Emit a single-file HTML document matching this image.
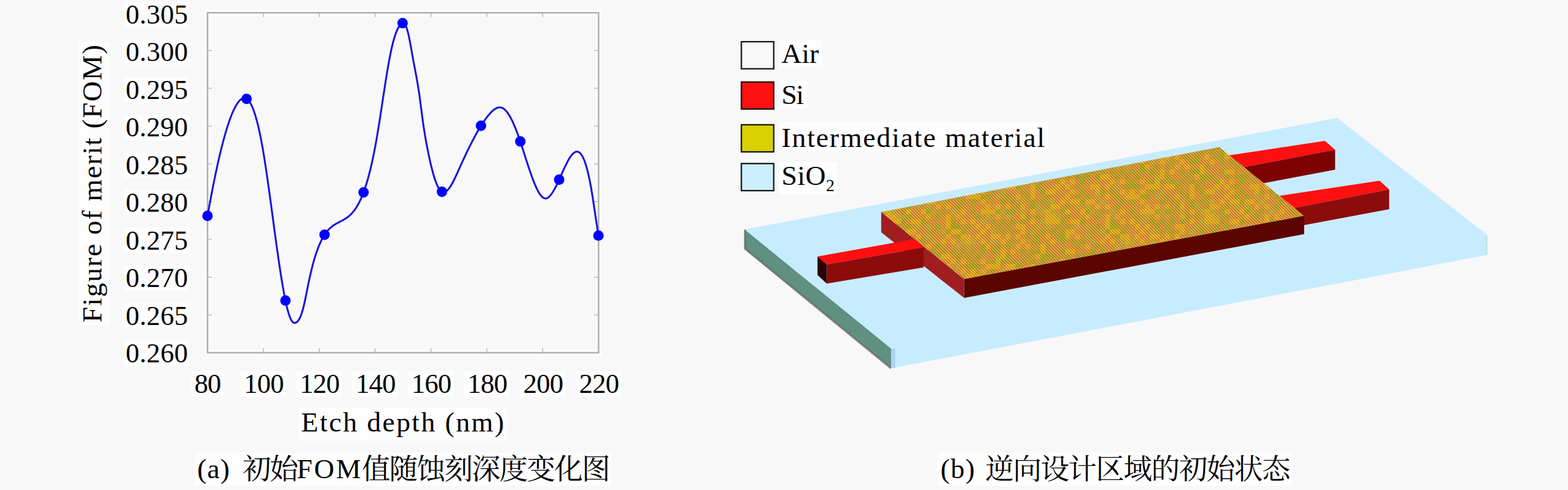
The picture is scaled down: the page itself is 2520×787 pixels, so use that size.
<!DOCTYPE html>
<html lang="zh">
<head>
<meta charset="utf-8">
<title>Figure: initial FOM vs etch depth and initial state of the inverse-design region</title>
<style>
html,body{margin:0;padding:0;}
body{width:2520px;height:787px;overflow:hidden;background:#f8f8f8;font-family:"Liberation Serif",serif;}
svg{position:absolute;left:0;top:0;display:block;}
text{font-family:"Liberation Serif",serif;fill:#000;}
.n{font-size:44px;}
.l{font-size:45px;}
.c{font-family:"Liberation Serif","Noto Serif CJK SC",serif;font-size:46px;fill:#000;}
</style>
</head>
<body>
<svg width="2520" height="787" viewBox="0 0 2520 787">
<defs><pattern id="tex" x="0" y="0" width="256" height="128" patternUnits="userSpaceOnUse"><rect width="256" height="128" fill="#dc9232"/><rect x="8" y="0" width="8" height="8" fill="#bcae2e"/><rect x="16" y="0" width="8" height="8" fill="#e8ae16"/><rect x="24" y="0" width="8" height="8" fill="#bcae2e"/><rect x="40" y="0" width="8" height="8" fill="#e8ae16"/><rect x="56" y="0" width="8" height="8" fill="#bcae2e"/><rect x="72" y="0" width="8" height="8" fill="#e8ae16"/><rect x="88" y="0" width="8" height="8" fill="#aaa61a"/><rect x="104" y="0" width="8" height="8" fill="#e8ae16"/><rect x="120" y="0" width="8" height="8" fill="#aaa61a"/><rect x="128" y="0" width="8" height="8" fill="#aaa61a"/><rect x="152" y="0" width="8" height="8" fill="#e8ae16"/><rect x="168" y="0" width="8" height="8" fill="#aaa61a"/><rect x="184" y="0" width="8" height="8" fill="#aaa61a"/><rect x="200" y="0" width="8" height="8" fill="#aaa61a"/><rect x="216" y="0" width="8" height="8" fill="#bcae2e"/><rect x="232" y="0" width="8" height="8" fill="#e8ae16"/><rect x="248" y="0" width="8" height="8" fill="#e8ae16"/><rect x="0" y="8" width="8" height="8" fill="#bcae2e"/><rect x="16" y="8" width="8" height="8" fill="#bcae2e"/><rect x="40" y="8" width="8" height="8" fill="#aaa61a"/><rect x="48" y="8" width="8" height="8" fill="#e8ae16"/><rect x="64" y="8" width="8" height="8" fill="#aaa61a"/><rect x="80" y="8" width="8" height="8" fill="#aaa61a"/><rect x="96" y="8" width="8" height="8" fill="#e8ae16"/><rect x="112" y="8" width="8" height="8" fill="#e8ae16"/><rect x="136" y="8" width="8" height="8" fill="#e8ae16"/><rect x="144" y="8" width="8" height="8" fill="#aaa61a"/><rect x="192" y="8" width="8" height="8" fill="#aaa61a"/><rect x="208" y="8" width="8" height="8" fill="#e8ae16"/><rect x="224" y="8" width="8" height="8" fill="#aaa61a"/><rect x="8" y="16" width="8" height="8" fill="#aaa61a"/><rect x="24" y="16" width="8" height="8" fill="#aaa61a"/><rect x="40" y="16" width="8" height="8" fill="#aaa61a"/><rect x="56" y="16" width="8" height="8" fill="#aaa61a"/><rect x="72" y="16" width="8" height="8" fill="#e8ae16"/><rect x="88" y="16" width="8" height="8" fill="#e8ae16"/><rect x="104" y="16" width="8" height="8" fill="#aaa61a"/><rect x="120" y="16" width="8" height="8" fill="#aaa61a"/><rect x="128" y="16" width="8" height="8" fill="#aaa61a"/><rect x="136" y="16" width="8" height="8" fill="#e8ae16"/><rect x="168" y="16" width="8" height="8" fill="#aaa61a"/><rect x="176" y="16" width="8" height="8" fill="#e8ae16"/><rect x="184" y="16" width="8" height="8" fill="#e8ae16"/><rect x="216" y="16" width="8" height="8" fill="#aaa61a"/><rect x="232" y="16" width="8" height="8" fill="#aaa61a"/><rect x="248" y="16" width="8" height="8" fill="#aaa61a"/><rect x="0" y="24" width="8" height="8" fill="#aaa61a"/><rect x="16" y="24" width="8" height="8" fill="#aaa61a"/><rect x="32" y="24" width="8" height="8" fill="#aaa61a"/><rect x="64" y="24" width="8" height="8" fill="#bcae2e"/><rect x="72" y="24" width="8" height="8" fill="#e8ae16"/><rect x="80" y="24" width="8" height="8" fill="#aaa61a"/><rect x="112" y="24" width="8" height="8" fill="#aaa61a"/><rect x="128" y="24" width="8" height="8" fill="#e8ae16"/><rect x="136" y="24" width="8" height="8" fill="#aaa61a"/><rect x="144" y="24" width="8" height="8" fill="#aaa61a"/><rect x="152" y="24" width="8" height="8" fill="#aaa61a"/><rect x="176" y="24" width="8" height="8" fill="#aaa61a"/><rect x="192" y="24" width="8" height="8" fill="#aaa61a"/><rect x="200" y="24" width="8" height="8" fill="#aaa61a"/><rect x="208" y="24" width="8" height="8" fill="#aaa61a"/><rect x="224" y="24" width="8" height="8" fill="#aaa61a"/><rect x="232" y="24" width="8" height="8" fill="#e8ae16"/><rect x="240" y="24" width="8" height="8" fill="#e8ae16"/><rect x="8" y="32" width="8" height="8" fill="#e8ae16"/><rect x="24" y="32" width="8" height="8" fill="#aaa61a"/><rect x="40" y="32" width="8" height="8" fill="#e8ae16"/><rect x="56" y="32" width="8" height="8" fill="#aaa61a"/><rect x="64" y="32" width="8" height="8" fill="#e8ae16"/><rect x="72" y="32" width="8" height="8" fill="#aaa61a"/><rect x="88" y="32" width="8" height="8" fill="#aaa61a"/><rect x="104" y="32" width="8" height="8" fill="#aaa61a"/><rect x="120" y="32" width="8" height="8" fill="#aaa61a"/><rect x="136" y="32" width="8" height="8" fill="#aaa61a"/><rect x="160" y="32" width="8" height="8" fill="#aaa61a"/><rect x="168" y="32" width="8" height="8" fill="#e8ae16"/><rect x="184" y="32" width="8" height="8" fill="#e8ae16"/><rect x="200" y="32" width="8" height="8" fill="#aaa61a"/><rect x="248" y="32" width="8" height="8" fill="#e8ae16"/><rect x="0" y="40" width="8" height="8" fill="#bcae2e"/><rect x="16" y="40" width="8" height="8" fill="#aaa61a"/><rect x="24" y="40" width="8" height="8" fill="#aaa61a"/><rect x="32" y="40" width="8" height="8" fill="#aaa61a"/><rect x="48" y="40" width="8" height="8" fill="#e8ae16"/><rect x="56" y="40" width="8" height="8" fill="#e8ae16"/><rect x="64" y="40" width="8" height="8" fill="#e8ae16"/><rect x="80" y="40" width="8" height="8" fill="#e8ae16"/><rect x="88" y="40" width="8" height="8" fill="#e8ae16"/><rect x="96" y="40" width="8" height="8" fill="#aaa61a"/><rect x="120" y="40" width="8" height="8" fill="#e8ae16"/><rect x="128" y="40" width="8" height="8" fill="#aaa61a"/><rect x="160" y="40" width="8" height="8" fill="#e8ae16"/><rect x="176" y="40" width="8" height="8" fill="#e8ae16"/><rect x="192" y="40" width="8" height="8" fill="#aaa61a"/><rect x="216" y="40" width="8" height="8" fill="#e8ae16"/><rect x="224" y="40" width="8" height="8" fill="#e8ae16"/><rect x="240" y="40" width="8" height="8" fill="#e8ae16"/><rect x="8" y="48" width="8" height="8" fill="#e8ae16"/><rect x="24" y="48" width="8" height="8" fill="#e8ae16"/><rect x="40" y="48" width="8" height="8" fill="#e8ae16"/><rect x="56" y="48" width="8" height="8" fill="#aaa61a"/><rect x="72" y="48" width="8" height="8" fill="#bcae2e"/><rect x="104" y="48" width="8" height="8" fill="#aaa61a"/><rect x="120" y="48" width="8" height="8" fill="#e8ae16"/><rect x="136" y="48" width="8" height="8" fill="#aaa61a"/><rect x="144" y="48" width="8" height="8" fill="#e8ae16"/><rect x="152" y="48" width="8" height="8" fill="#e8ae16"/><rect x="184" y="48" width="8" height="8" fill="#e8ae16"/><rect x="200" y="48" width="8" height="8" fill="#aaa61a"/><rect x="224" y="48" width="8" height="8" fill="#e8ae16"/><rect x="232" y="48" width="8" height="8" fill="#aaa61a"/><rect x="248" y="48" width="8" height="8" fill="#aaa61a"/><rect x="0" y="56" width="8" height="8" fill="#aaa61a"/><rect x="16" y="56" width="8" height="8" fill="#e8ae16"/><rect x="24" y="56" width="8" height="8" fill="#e8ae16"/><rect x="32" y="56" width="8" height="8" fill="#e8ae16"/><rect x="40" y="56" width="8" height="8" fill="#aaa61a"/><rect x="48" y="56" width="8" height="8" fill="#aaa61a"/><rect x="64" y="56" width="8" height="8" fill="#bcae2e"/><rect x="80" y="56" width="8" height="8" fill="#aaa61a"/><rect x="96" y="56" width="8" height="8" fill="#e8ae16"/><rect x="112" y="56" width="8" height="8" fill="#aaa61a"/><rect x="120" y="56" width="8" height="8" fill="#e8ae16"/><rect x="144" y="56" width="8" height="8" fill="#aaa61a"/><rect x="176" y="56" width="8" height="8" fill="#e8ae16"/><rect x="192" y="56" width="8" height="8" fill="#aaa61a"/><rect x="208" y="56" width="8" height="8" fill="#aaa61a"/><rect x="224" y="56" width="8" height="8" fill="#bcae2e"/><rect x="240" y="56" width="8" height="8" fill="#e8ae16"/><rect x="8" y="64" width="8" height="8" fill="#aaa61a"/><rect x="24" y="64" width="8" height="8" fill="#aaa61a"/><rect x="40" y="64" width="8" height="8" fill="#e8ae16"/><rect x="72" y="64" width="8" height="8" fill="#aaa61a"/><rect x="88" y="64" width="8" height="8" fill="#aaa61a"/><rect x="104" y="64" width="8" height="8" fill="#bcae2e"/><rect x="120" y="64" width="8" height="8" fill="#aaa61a"/><rect x="136" y="64" width="8" height="8" fill="#aaa61a"/><rect x="152" y="64" width="8" height="8" fill="#bcae2e"/><rect x="168" y="64" width="8" height="8" fill="#e8ae16"/><rect x="184" y="64" width="8" height="8" fill="#e8ae16"/><rect x="192" y="64" width="8" height="8" fill="#e8ae16"/><rect x="200" y="64" width="8" height="8" fill="#aaa61a"/><rect x="208" y="64" width="8" height="8" fill="#e8ae16"/><rect x="216" y="64" width="8" height="8" fill="#e8ae16"/><rect x="232" y="64" width="8" height="8" fill="#bcae2e"/><rect x="0" y="72" width="8" height="8" fill="#aaa61a"/><rect x="48" y="72" width="8" height="8" fill="#e8ae16"/><rect x="64" y="72" width="8" height="8" fill="#e8ae16"/><rect x="80" y="72" width="8" height="8" fill="#e8ae16"/><rect x="96" y="72" width="8" height="8" fill="#aaa61a"/><rect x="104" y="72" width="8" height="8" fill="#e8ae16"/><rect x="120" y="72" width="8" height="8" fill="#aaa61a"/><rect x="128" y="72" width="8" height="8" fill="#bcae2e"/><rect x="144" y="72" width="8" height="8" fill="#aaa61a"/><rect x="152" y="72" width="8" height="8" fill="#e8ae16"/><rect x="160" y="72" width="8" height="8" fill="#e8ae16"/><rect x="176" y="72" width="8" height="8" fill="#aaa61a"/><rect x="192" y="72" width="8" height="8" fill="#bcae2e"/><rect x="208" y="72" width="8" height="8" fill="#bcae2e"/><rect x="224" y="72" width="8" height="8" fill="#e8ae16"/><rect x="240" y="72" width="8" height="8" fill="#e8ae16"/><rect x="8" y="80" width="8" height="8" fill="#e8ae16"/><rect x="24" y="80" width="8" height="8" fill="#aaa61a"/><rect x="40" y="80" width="8" height="8" fill="#e8ae16"/><rect x="48" y="80" width="8" height="8" fill="#e8ae16"/><rect x="56" y="80" width="8" height="8" fill="#e8ae16"/><rect x="64" y="80" width="8" height="8" fill="#aaa61a"/><rect x="72" y="80" width="8" height="8" fill="#bcae2e"/><rect x="80" y="80" width="8" height="8" fill="#aaa61a"/><rect x="88" y="80" width="8" height="8" fill="#aaa61a"/><rect x="104" y="80" width="8" height="8" fill="#bcae2e"/><rect x="120" y="80" width="8" height="8" fill="#e8ae16"/><rect x="136" y="80" width="8" height="8" fill="#bcae2e"/><rect x="144" y="80" width="8" height="8" fill="#e8ae16"/><rect x="152" y="80" width="8" height="8" fill="#bcae2e"/><rect x="168" y="80" width="8" height="8" fill="#aaa61a"/><rect x="176" y="80" width="8" height="8" fill="#e8ae16"/><rect x="200" y="80" width="8" height="8" fill="#e8ae16"/><rect x="208" y="80" width="8" height="8" fill="#aaa61a"/><rect x="216" y="80" width="8" height="8" fill="#bcae2e"/><rect x="232" y="80" width="8" height="8" fill="#aaa61a"/><rect x="248" y="80" width="8" height="8" fill="#bcae2e"/><rect x="0" y="88" width="8" height="8" fill="#e8ae16"/><rect x="32" y="88" width="8" height="8" fill="#aaa61a"/><rect x="48" y="88" width="8" height="8" fill="#bcae2e"/><rect x="64" y="88" width="8" height="8" fill="#e8ae16"/><rect x="80" y="88" width="8" height="8" fill="#bcae2e"/><rect x="104" y="88" width="8" height="8" fill="#e8ae16"/><rect x="112" y="88" width="8" height="8" fill="#aaa61a"/><rect x="128" y="88" width="8" height="8" fill="#aaa61a"/><rect x="144" y="88" width="8" height="8" fill="#e8ae16"/><rect x="152" y="88" width="8" height="8" fill="#e8ae16"/><rect x="160" y="88" width="8" height="8" fill="#bcae2e"/><rect x="176" y="88" width="8" height="8" fill="#aaa61a"/><rect x="208" y="88" width="8" height="8" fill="#e8ae16"/><rect x="224" y="88" width="8" height="8" fill="#aaa61a"/><rect x="240" y="88" width="8" height="8" fill="#e8ae16"/><rect x="8" y="96" width="8" height="8" fill="#e8ae16"/><rect x="24" y="96" width="8" height="8" fill="#e8ae16"/><rect x="40" y="96" width="8" height="8" fill="#bcae2e"/><rect x="56" y="96" width="8" height="8" fill="#aaa61a"/><rect x="72" y="96" width="8" height="8" fill="#aaa61a"/><rect x="88" y="96" width="8" height="8" fill="#aaa61a"/><rect x="104" y="96" width="8" height="8" fill="#aaa61a"/><rect x="120" y="96" width="8" height="8" fill="#e8ae16"/><rect x="136" y="96" width="8" height="8" fill="#bcae2e"/><rect x="144" y="96" width="8" height="8" fill="#e8ae16"/><rect x="152" y="96" width="8" height="8" fill="#e8ae16"/><rect x="160" y="96" width="8" height="8" fill="#e8ae16"/><rect x="168" y="96" width="8" height="8" fill="#aaa61a"/><rect x="184" y="96" width="8" height="8" fill="#e8ae16"/><rect x="192" y="96" width="8" height="8" fill="#e8ae16"/><rect x="200" y="96" width="8" height="8" fill="#aaa61a"/><rect x="240" y="96" width="8" height="8" fill="#e8ae16"/><rect x="248" y="96" width="8" height="8" fill="#aaa61a"/><rect x="0" y="104" width="8" height="8" fill="#aaa61a"/><rect x="16" y="104" width="8" height="8" fill="#aaa61a"/><rect x="32" y="104" width="8" height="8" fill="#e8ae16"/><rect x="48" y="104" width="8" height="8" fill="#e8ae16"/><rect x="64" y="104" width="8" height="8" fill="#aaa61a"/><rect x="80" y="104" width="8" height="8" fill="#aaa61a"/><rect x="96" y="104" width="8" height="8" fill="#e8ae16"/><rect x="104" y="104" width="8" height="8" fill="#e8ae16"/><rect x="128" y="104" width="8" height="8" fill="#bcae2e"/><rect x="144" y="104" width="8" height="8" fill="#bcae2e"/><rect x="160" y="104" width="8" height="8" fill="#aaa61a"/><rect x="176" y="104" width="8" height="8" fill="#aaa61a"/><rect x="192" y="104" width="8" height="8" fill="#bcae2e"/><rect x="208" y="104" width="8" height="8" fill="#bcae2e"/><rect x="224" y="104" width="8" height="8" fill="#aaa61a"/><rect x="240" y="104" width="8" height="8" fill="#e8ae16"/><rect x="248" y="104" width="8" height="8" fill="#aaa61a"/><rect x="0" y="112" width="8" height="8" fill="#e8ae16"/><rect x="8" y="112" width="8" height="8" fill="#aaa61a"/><rect x="40" y="112" width="8" height="8" fill="#e8ae16"/><rect x="56" y="112" width="8" height="8" fill="#bcae2e"/><rect x="72" y="112" width="8" height="8" fill="#aaa61a"/><rect x="88" y="112" width="8" height="8" fill="#aaa61a"/><rect x="104" y="112" width="8" height="8" fill="#e8ae16"/><rect x="120" y="112" width="8" height="8" fill="#bcae2e"/><rect x="136" y="112" width="8" height="8" fill="#aaa61a"/><rect x="152" y="112" width="8" height="8" fill="#aaa61a"/><rect x="168" y="112" width="8" height="8" fill="#aaa61a"/><rect x="176" y="112" width="8" height="8" fill="#e8ae16"/><rect x="184" y="112" width="8" height="8" fill="#e8ae16"/><rect x="216" y="112" width="8" height="8" fill="#aaa61a"/><rect x="232" y="112" width="8" height="8" fill="#bcae2e"/><rect x="240" y="112" width="8" height="8" fill="#aaa61a"/><rect x="248" y="112" width="8" height="8" fill="#e8ae16"/><rect x="0" y="120" width="8" height="8" fill="#aaa61a"/><rect x="8" y="120" width="8" height="8" fill="#e8ae16"/><rect x="16" y="120" width="8" height="8" fill="#e8ae16"/><rect x="32" y="120" width="8" height="8" fill="#e8ae16"/><rect x="56" y="120" width="8" height="8" fill="#e8ae16"/><rect x="64" y="120" width="8" height="8" fill="#e8ae16"/><rect x="80" y="120" width="8" height="8" fill="#e8ae16"/><rect x="96" y="120" width="8" height="8" fill="#e8ae16"/><rect x="112" y="120" width="8" height="8" fill="#aaa61a"/><rect x="128" y="120" width="8" height="8" fill="#aaa61a"/><rect x="144" y="120" width="8" height="8" fill="#e8ae16"/><rect x="160" y="120" width="8" height="8" fill="#aaa61a"/><rect x="168" y="120" width="8" height="8" fill="#aaa61a"/><rect x="176" y="120" width="8" height="8" fill="#e8ae16"/><rect x="192" y="120" width="8" height="8" fill="#e8ae16"/><rect x="208" y="120" width="8" height="8" fill="#bcae2e"/><rect x="240" y="120" width="8" height="8" fill="#e8ae16"/></pattern><pattern id="hatch" x="0" y="0" width="5" height="5" patternUnits="userSpaceOnUse"><g transform="translate(5,0) scale(-1,1)"><path d="M-1 1 L1 -1 M0 5 L5 0 M4 6 L6 4" stroke="#ffe6a0" stroke-opacity="0.30" stroke-width="1.3"/><path d="M-1 3.5 L3.5 -1 M1.5 6 L6 1.5" stroke="#7a3c00" stroke-opacity="0.34" stroke-width="1.3"/></g></pattern></defs>
<g id="graphics">
<rect x="333.5" y="20.5" width="628.5" height="546.0" fill="none" stroke="#ffffff" stroke-width="9"/>
<rect x="333.5" y="20.5" width="628.5" height="546.0" fill="none" stroke="#b3b3b3" stroke-width="2.7"/>
<path d="M423.3 566.5 v-7 M423.3 20.5 v7 M513.1 566.5 v-7 M513.1 20.5 v7 M602.9 566.5 v-7 M602.9 20.5 v7 M692.6 566.5 v-7 M692.6 20.5 v7 M782.4 566.5 v-7 M782.4 20.5 v7 M872.2 566.5 v-7 M872.2 20.5 v7 M333.5 81.2 h7 M962.0 81.2 h-7 M333.5 141.8 h7 M962.0 141.8 h-7 M333.5 202.5 h7 M962.0 202.5 h-7 M333.5 263.2 h7 M962.0 263.2 h-7 M333.5 323.8 h7 M962.0 323.8 h-7 M333.5 384.5 h7 M962.0 384.5 h-7 M333.5 445.2 h7 M962.0 445.2 h-7 M333.5 505.8 h7 M962.0 505.8 h-7" stroke="#bcbcbc" stroke-width="1.6" fill="none"/>
<path d="M333.5 346.7 L334.5 341.1 L335.5 335.6 L336.5 330.1 L337.5 324.7 L338.5 319.4 L339.5 314.1 L340.5 308.9 L341.5 303.8 L342.5 298.7 L343.5 293.7 L344.5 288.8 L345.5 283.9 L346.5 279.1 L347.5 274.4 L348.5 269.8 L349.5 265.2 L350.5 260.7 L351.5 256.3 L352.5 252.0 L353.5 247.7 L354.5 243.6 L355.5 239.5 L356.5 235.5 L357.5 231.6 L358.5 227.7 L359.5 224.0 L360.5 220.3 L361.5 216.8 L362.5 213.3 L363.5 209.9 L364.5 206.6 L365.5 203.4 L366.5 200.3 L367.5 197.3 L368.5 194.4 L369.5 191.6 L370.5 188.9 L371.5 186.3 L372.5 183.8 L373.5 181.4 L374.5 179.1 L375.5 176.9 L376.5 174.8 L377.5 172.8 L378.5 171.0 L379.5 169.2 L380.5 167.6 L381.5 166.0 L382.5 164.6 L383.5 163.3 L384.5 162.1 L385.5 161.1 L386.5 160.2 L387.5 159.4 L388.5 158.8 L389.5 158.3 L390.5 157.9 L391.5 157.7 L392.5 157.6 L393.5 157.7 L394.5 158.0 L395.5 158.4 L396.5 158.9 L397.5 159.7 L398.5 160.6 L399.5 161.7 L400.5 162.9 L401.5 164.4 L402.5 166.0 L403.5 167.8 L404.5 169.8 L405.5 172.0 L406.5 174.3 L407.5 176.9 L408.5 179.7 L409.5 182.7 L410.5 185.9 L411.5 189.3 L412.5 192.9 L413.5 196.7 L414.5 200.7 L415.5 204.9 L416.5 209.3 L417.5 214.0 L418.5 218.8 L419.5 223.8 L420.5 229.1 L421.5 234.6 L422.5 240.2 L423.5 246.1 L424.5 252.2 L425.5 258.4 L426.5 264.8 L427.5 271.4 L428.5 278.1 L429.5 285.0 L430.5 292.0 L431.5 299.0 L432.5 306.2 L433.5 313.4 L434.5 320.7 L435.5 328.1 L436.5 335.5 L437.5 342.9 L438.5 350.3 L439.5 357.8 L440.5 365.2 L441.5 372.6 L442.5 379.9 L443.5 387.2 L444.5 394.4 L445.5 401.5 L446.5 408.6 L447.5 415.5 L448.5 422.4 L449.5 429.1 L450.5 435.6 L451.5 442.0 L452.5 448.2 L453.5 454.3 L454.5 460.1 L455.5 465.8 L456.5 471.2 L457.5 476.4 L458.5 481.4 L459.5 486.1 L460.5 490.5 L461.5 494.7 L462.5 498.5 L463.5 502.1 L464.5 505.3 L465.5 508.2 L466.5 510.7 L467.5 512.9 L468.5 514.7 L469.5 516.2 L470.5 517.3 L471.5 518.0 L472.5 518.5 L473.5 518.7 L474.5 518.6 L475.5 518.2 L476.5 517.7 L477.5 517.0 L478.5 516.0 L479.5 514.7 L480.5 513.2 L481.5 511.5 L482.5 509.4 L483.5 507.0 L484.5 504.3 L485.5 501.3 L486.5 497.9 L487.5 494.2 L488.5 490.1 L489.5 485.7 L490.5 481.1 L491.5 476.3 L492.5 471.3 L493.5 466.3 L494.5 461.3 L495.5 456.3 L496.5 451.5 L497.5 446.8 L498.5 442.3 L499.5 438.0 L500.5 433.8 L501.5 429.8 L502.5 425.9 L503.5 422.2 L504.5 418.6 L505.5 415.2 L506.5 411.9 L507.5 408.8 L508.5 405.8 L509.5 402.9 L510.5 400.2 L511.5 397.5 L512.5 395.0 L513.5 392.6 L514.5 390.3 L515.5 388.2 L516.5 386.1 L517.5 384.1 L518.5 382.3 L519.5 380.5 L520.5 378.8 L521.5 377.2 L522.5 375.7 L523.5 374.3 L524.5 373.0 L525.5 371.7 L526.5 370.5 L527.5 369.4 L528.5 368.3 L529.5 367.3 L530.5 366.4 L531.5 365.5 L532.5 364.6 L533.5 363.8 L534.5 363.0 L535.5 362.3 L536.5 361.6 L537.5 361.0 L538.5 360.4 L539.5 359.8 L540.5 359.2 L541.5 358.7 L542.5 358.1 L543.5 357.6 L544.5 357.1 L545.5 356.6 L546.5 356.0 L547.5 355.5 L548.5 355.0 L549.5 354.5 L550.5 353.9 L551.5 353.4 L552.5 352.8 L553.5 352.2 L554.5 351.6 L555.5 351.0 L556.5 350.3 L557.5 349.6 L558.5 348.9 L559.5 348.2 L560.5 347.3 L561.5 346.5 L562.5 345.6 L563.5 344.7 L564.5 343.7 L565.5 342.6 L566.5 341.5 L567.5 340.3 L568.5 339.1 L569.5 337.8 L570.5 336.4 L571.5 335.0 L572.5 333.5 L573.5 331.9 L574.5 330.2 L575.5 328.5 L576.5 326.6 L577.5 324.7 L578.5 322.6 L579.5 320.5 L580.5 318.3 L581.5 315.9 L582.5 313.5 L583.5 311.0 L584.5 308.3 L585.5 305.5 L586.5 302.6 L587.5 299.6 L588.5 296.5 L589.5 293.2 L590.5 289.8 L591.5 286.3 L592.5 282.7 L593.5 278.9 L594.5 274.9 L595.5 270.9 L596.5 266.6 L597.5 262.3 L598.5 257.7 L599.5 253.1 L600.5 248.2 L601.5 243.2 L602.5 238.0 L603.5 232.7 L604.5 227.2 L605.5 221.5 L606.5 215.7 L607.5 209.6 L608.5 203.5 L609.5 197.2 L610.5 190.9 L611.5 184.4 L612.5 177.9 L613.5 171.4 L614.5 164.8 L615.5 158.2 L616.5 151.7 L617.5 145.2 L618.5 138.7 L619.5 132.3 L620.5 126.0 L621.5 119.9 L622.5 113.8 L623.5 108.0 L624.5 102.3 L625.5 96.8 L626.5 91.5 L627.5 86.4 L628.5 81.6 L629.5 77.0 L630.5 72.8 L631.5 68.7 L632.5 65.0 L633.5 61.5 L634.5 58.3 L635.5 55.3 L636.5 52.6 L637.5 50.1 L638.5 47.8 L639.5 45.7 L640.5 43.9 L641.5 42.3 L642.5 40.9 L643.5 39.7 L644.5 38.7 L645.5 37.9 L646.5 37.4 L647.5 37.3 L648.5 37.4 L649.5 38.0 L650.5 39.0 L651.5 40.4 L652.5 42.3 L653.5 44.8 L654.5 47.8 L655.5 51.4 L656.5 55.6 L657.5 60.2 L658.5 65.3 L659.5 70.6 L660.5 76.2 L661.5 81.8 L662.5 87.5 L663.5 93.1 L664.5 98.5 L665.5 103.8 L666.5 109.0 L667.5 114.2 L668.5 119.4 L669.5 124.8 L670.5 130.4 L671.5 136.3 L672.5 142.4 L673.5 149.0 L674.5 156.1 L675.5 163.6 L676.5 171.2 L677.5 179.0 L678.5 186.7 L679.5 194.1 L680.5 201.2 L681.5 207.9 L682.5 214.1 L683.5 220.1 L684.5 225.7 L685.5 231.2 L686.5 236.4 L687.5 241.6 L688.5 246.5 L689.5 251.3 L690.5 255.9 L691.5 260.3 L692.5 264.6 L693.5 268.7 L694.5 272.7 L695.5 276.4 L696.5 280.0 L697.5 283.3 L698.5 286.5 L699.5 289.5 L700.5 292.3 L701.5 294.9 L702.5 297.2 L703.5 299.4 L704.5 301.3 L705.5 303.0 L706.5 304.4 L707.5 305.6 L708.5 306.6 L709.5 307.4 L710.5 308.0 L711.5 308.4 L712.5 308.6 L713.5 308.6 L714.5 308.4 L715.5 308.0 L716.5 307.5 L717.5 306.8 L718.5 306.0 L719.5 305.0 L720.5 303.9 L721.5 302.7 L722.5 301.4 L723.5 299.9 L724.5 298.4 L725.5 296.7 L726.5 295.0 L727.5 293.2 L728.5 291.3 L729.5 289.3 L730.5 287.3 L731.5 285.2 L732.5 283.1 L733.5 280.9 L734.5 278.8 L735.5 276.6 L736.5 274.3 L737.5 272.1 L738.5 269.9 L739.5 267.7 L740.5 265.5 L741.5 263.3 L742.5 261.1 L743.5 258.9 L744.5 256.8 L745.5 254.6 L746.5 252.5 L747.5 250.3 L748.5 248.2 L749.5 246.1 L750.5 244.0 L751.5 241.9 L752.5 239.9 L753.5 237.8 L754.5 235.8 L755.5 233.8 L756.5 231.8 L757.5 229.9 L758.5 227.9 L759.5 226.0 L760.5 224.1 L761.5 222.2 L762.5 220.3 L763.5 218.5 L764.5 216.6 L765.5 214.8 L766.5 213.1 L767.5 211.3 L768.5 209.6 L769.5 207.9 L770.5 206.2 L771.5 204.5 L772.5 202.9 L773.5 201.3 L774.5 199.8 L775.5 198.2 L776.5 196.7 L777.5 195.2 L778.5 193.8 L779.5 192.4 L780.5 191.0 L781.5 189.6 L782.5 188.3 L783.5 187.0 L784.5 185.8 L785.5 184.6 L786.5 183.4 L787.5 182.3 L788.5 181.2 L789.5 180.1 L790.5 179.1 L791.5 178.2 L792.5 177.3 L793.5 176.5 L794.5 175.7 L795.5 175.1 L796.5 174.5 L797.5 173.9 L798.5 173.5 L799.5 173.1 L800.5 172.8 L801.5 172.6 L802.5 172.5 L803.5 172.5 L804.5 172.6 L805.5 172.8 L806.5 173.1 L807.5 173.5 L808.5 174.0 L809.5 174.7 L810.5 175.4 L811.5 176.3 L812.5 177.3 L813.5 178.4 L814.5 179.6 L815.5 180.9 L816.5 182.3 L817.5 183.8 L818.5 185.4 L819.5 187.1 L820.5 188.8 L821.5 190.7 L822.5 192.7 L823.5 194.7 L824.5 196.9 L825.5 199.1 L826.5 201.4 L827.5 203.8 L828.5 206.2 L829.5 208.8 L830.5 211.4 L831.5 214.1 L832.5 216.8 L833.5 219.6 L834.5 222.5 L835.5 225.4 L836.5 228.4 L837.5 231.4 L838.5 234.4 L839.5 237.5 L840.5 240.6 L841.5 243.7 L842.5 246.8 L843.5 249.9 L844.5 253.0 L845.5 256.1 L846.5 259.2 L847.5 262.3 L848.5 265.3 L849.5 268.4 L850.5 271.4 L851.5 274.3 L852.5 277.2 L853.5 280.1 L854.5 282.9 L855.5 285.6 L856.5 288.3 L857.5 290.9 L858.5 293.4 L859.5 295.9 L860.5 298.2 L861.5 300.5 L862.5 302.6 L863.5 304.6 L864.5 306.6 L865.5 308.4 L866.5 310.0 L867.5 311.6 L868.5 313.0 L869.5 314.3 L870.5 315.4 L871.5 316.4 L872.5 317.2 L873.5 317.8 L874.5 318.3 L875.5 318.6 L876.5 318.7 L877.5 318.7 L878.5 318.5 L879.5 318.1 L880.5 317.5 L881.5 316.8 L882.5 316.0 L883.5 315.0 L884.5 313.9 L885.5 312.7 L886.5 311.3 L887.5 309.9 L888.5 308.3 L889.5 306.7 L890.5 304.9 L891.5 303.1 L892.5 301.2 L893.5 299.3 L894.5 297.3 L895.5 295.2 L896.5 293.1 L897.5 291.0 L898.5 288.8 L899.5 286.6 L900.5 284.4 L901.5 282.1 L902.5 279.9 L903.5 277.7 L904.5 275.4 L905.5 273.2 L906.5 271.1 L907.5 268.9 L908.5 266.8 L909.5 264.8 L910.5 262.8 L911.5 260.8 L912.5 258.9 L913.5 257.1 L914.5 255.4 L915.5 253.8 L916.5 252.2 L917.5 250.8 L918.5 249.4 L919.5 248.2 L920.5 247.1 L921.5 246.2 L922.5 245.4 L923.5 244.7 L924.5 244.1 L925.5 243.8 L926.5 243.6 L927.5 243.5 L928.5 243.7 L929.5 244.0 L930.5 244.5 L931.5 245.2 L932.5 246.1 L933.5 247.3 L934.5 248.6 L935.5 250.2 L936.5 252.0 L937.5 254.0 L938.5 256.3 L939.5 258.8 L940.5 261.6 L941.5 264.7 L942.5 268.0 L943.5 271.5 L944.5 275.4 L945.5 279.5 L946.5 284.0 L947.5 288.7 L948.5 293.8 L949.5 299.1 L950.5 304.8 L951.5 310.8 L952.5 317.0 L953.5 323.4 L954.5 330.0 L955.5 336.7 L956.5 343.4 L957.5 350.2 L958.5 356.9 L959.5 363.6 L960.5 370.2 L961.5 376.5 L961.8 378.4" fill="none" stroke="#1812de" stroke-width="3" stroke-linejoin="round" stroke-linecap="round"/>
<circle cx="333.5" cy="346.7" r="8.4" fill="#0000ff"/>
<circle cx="396.3" cy="158.8" r="8.4" fill="#0000ff"/>
<circle cx="458.8" cy="482.7" r="8.4" fill="#0000ff"/>
<circle cx="521.6" cy="377" r="8.4" fill="#0000ff"/>
<circle cx="584.3" cy="309" r="8.4" fill="#0000ff"/>
<circle cx="647" cy="37.2" r="8.4" fill="#0000ff"/>
<circle cx="710.3" cy="308" r="8.4" fill="#0000ff"/>
<circle cx="773" cy="202" r="8.4" fill="#0000ff"/>
<circle cx="836.2" cy="227.2" r="8.4" fill="#0000ff"/>
<circle cx="898.6" cy="288.5" r="8.4" fill="#0000ff"/>
<circle cx="961.8" cy="378.4" r="8.4" fill="#0000ff"/>
<rect x="1191.5" y="67" width="52" height="43.5" fill="#f8f8f8" stroke="#111" stroke-width="2.2"/>
<rect x="1191.5" y="131.7" width="52" height="43.5" fill="#ff1010" stroke="#111" stroke-width="2.2"/>
<rect x="1191.5" y="200.4" width="52" height="43.5" fill="#d8d000" stroke="#111" stroke-width="2.2"/>
<rect x="1191.5" y="262.7" width="52" height="43.5" fill="#cceeff" stroke="#111" stroke-width="2.2"/>
<polygon points="1196.5,368.5 2149.0,189.5 2390.0,377.0 2390.0,409.5 1432.0,591.5 1432.0,559.7" fill="#c8ecff" />
<polygon points="1196.5,368.5 1432.0,559.7 1432.0,591.5 1196.5,399.5" fill="#5f9080" />
<path d="M1197.5 369 L1197.5 399.5 L1432 591.5" fill="none" stroke="#6e6e6e" stroke-opacity="0.75" stroke-width="3.5" stroke-linejoin="round"/>
<rect x="1432" y="560" width="7" height="31" fill="#a6cdf0" opacity="0.8"/>
<rect x="2387.5" y="378" width="3" height="31" fill="#bfe9dc"/>
<polygon points="1975.0,249.5 2129.3,226.3 2145.7,240.6 1999.2,268.4" fill="#ff0f0f" />
<polygon points="1999.2,268.4 2145.7,240.6 2145.7,272.4 1999.2,300.2" fill="#7d0303" />
<polygon points="2056.3,314.6 2217.2,290.3 2232.6,304.2 2080.3,334.0" fill="#ff0f0f" />
<polygon points="2080.3,334.0 2232.6,304.2 2232.6,335.9 2080.3,364.5" fill="#8c0c0c" />
<polygon points="1416.2,340.5 1549.5,448.3 1549.5,478.5 1416.2,373.0" fill="#a01e20" />
<polygon points="1313.8,411.9 1470.4,383.7 1484.4,397.5 1328.7,424.7" fill="#ff0f0f" />
<polygon points="1328.7,424.7 1484.4,397.5 1484.4,429.5 1328.7,455.5" fill="#8c0c0c" />
<polygon points="1313.8,411.9 1328.7,424.7 1328.7,455.5 1313.8,441.6" fill="#2e0006" />
<polygon points="1416.2,340.5 1959.5,236.3 2096.0,346.7 1549.5,448.3" fill="url(#tex)" />
<polygon points="1416.2,340.5 1959.5,236.3 2096.0,346.7 1549.5,448.3" fill="url(#hatch)" />
<polygon points="1549.5,448.3 2096.0,346.7 2096.0,376.0 1549.5,478.5" fill="#5c0400" />
</g>
<g fill="#ffffff" opacity="0.85"><rect x="199.0" y="3.0" width="106.0" height="41.0"/><rect x="199.0" y="63.4" width="106.0" height="41.0"/><rect x="199.0" y="123.9" width="106.0" height="41.0"/><rect x="199.0" y="184.3" width="106.0" height="41.0"/><rect x="199.0" y="244.8" width="106.0" height="41.0"/><rect x="199.0" y="305.2" width="106.0" height="41.0"/><rect x="199.0" y="365.6" width="106.0" height="41.0"/><rect x="199.0" y="426.1" width="106.0" height="41.0"/><rect x="199.0" y="486.5" width="106.0" height="41.0"/><rect x="199.0" y="547.0" width="106.0" height="41.0"/><rect x="307.0" y="596.0" width="53.0" height="41.0"/><rect x="386.0" y="596.0" width="74.5" height="41.0"/><rect x="475.8" y="596.0" width="74.5" height="41.0"/><rect x="565.6" y="596.0" width="74.5" height="41.0"/><rect x="655.4" y="596.0" width="74.5" height="41.0"/><rect x="745.2" y="596.0" width="74.5" height="41.0"/><rect x="835.0" y="596.0" width="74.5" height="41.0"/><rect x="924.8" y="596.0" width="74.5" height="41.0"/><rect x="480.0" y="655.0" width="335.0" height="53.0"/><rect x="127.0" y="68.0" width="50.0" height="454.0"/><rect x="1252.0" y="64.0" width="70.0" height="44.0"/><rect x="1252.0" y="130.0" width="46.0" height="44.0"/><rect x="1252.0" y="196.0" width="432.0" height="47.0"/><rect x="1252.0" y="260.0" width="94.0" height="52.0"/><rect x="313.0" y="727.0" width="669.0" height="53.0"/><rect x="1507.0" y="727.0" width="570.0" height="53.0"/></g>
<g id="labels">
<text x="302" y="38.0" text-anchor="end" class="n" textLength="100" lengthAdjust="spacing">0.305</text>
<text x="302" y="98.4" text-anchor="end" class="n" textLength="100" lengthAdjust="spacing">0.300</text>
<text x="302" y="158.9" text-anchor="end" class="n" textLength="100" lengthAdjust="spacing">0.295</text>
<text x="302" y="219.3" text-anchor="end" class="n" textLength="100" lengthAdjust="spacing">0.290</text>
<text x="302" y="279.8" text-anchor="end" class="n" textLength="100" lengthAdjust="spacing">0.285</text>
<text x="302" y="340.2" text-anchor="end" class="n" textLength="100" lengthAdjust="spacing">0.280</text>
<text x="302" y="400.6" text-anchor="end" class="n" textLength="100" lengthAdjust="spacing">0.275</text>
<text x="302" y="461.1" text-anchor="end" class="n" textLength="100" lengthAdjust="spacing">0.270</text>
<text x="302" y="521.5" text-anchor="end" class="n" textLength="100" lengthAdjust="spacing">0.265</text>
<text x="302" y="582.0" text-anchor="end" class="n" textLength="100" lengthAdjust="spacing">0.260</text>
<text x="334.0" y="630.5" text-anchor="middle" class="n" textLength="43" lengthAdjust="spacing">80</text>
<text x="424.3" y="630.5" text-anchor="middle" class="n" textLength="64.5" lengthAdjust="spacing">100</text>
<text x="514.1" y="630.5" text-anchor="middle" class="n" textLength="64.5" lengthAdjust="spacing">120</text>
<text x="603.9" y="630.5" text-anchor="middle" class="n" textLength="64.5" lengthAdjust="spacing">140</text>
<text x="693.6" y="630.5" text-anchor="middle" class="n" textLength="64.5" lengthAdjust="spacing">160</text>
<text x="783.4" y="630.5" text-anchor="middle" class="n" textLength="64.5" lengthAdjust="spacing">180</text>
<text x="873.2" y="630.5" text-anchor="middle" class="n" textLength="64.5" lengthAdjust="spacing">200</text>
<text x="963.0" y="630.5" text-anchor="middle" class="n" textLength="64.5" lengthAdjust="spacing">220</text>
<text x="484" y="693" class="l" textLength="326" lengthAdjust="spacing">Etch depth (nm)</text>
<text transform="translate(163,518) rotate(-90)" class="l" textLength="446" lengthAdjust="spacing">Figure of merit (FOM)</text>
<text x="1256" y="100.9" class="l" textLength="60" lengthAdjust="spacing">Air</text>
<text x="1256" y="166.7" class="l" textLength="36" lengthAdjust="spacing">Si</text>
<text x="1256" y="235.7" class="l" textLength="423" lengthAdjust="spacing">Intermediate material</text>
<text x="1256" y="297.2" class="l" textLength="71" lengthAdjust="spacing">SiO</text>
<text x="1327.5" y="306.8" style="font-size:27.5px">2</text>
<text x="317" y="767.5" class="l" textLength="52" lengthAdjust="spacing">(a)</text>
<text x="477" y="767.5" class="l" textLength="103" lengthAdjust="spacing">FOM</text>
<text x="1511.5" y="767.5" class="l" textLength="55" lengthAdjust="spacing">(b)</text>
</g>
<g id="captions">
<g fill="#000">
<text x="389.8" y="769.3" class="c" textLength="89.6" lengthAdjust="spacing">初始</text>
<text x="581.4" y="769.3" class="c" textLength="399.6" lengthAdjust="spacing">值随蚀刻深度变化图</text>
</g>
<g fill="#000">
<text x="1583.52" y="769.3" class="c" textLength="490.5" lengthAdjust="spacing">逆向设计区域的初始状态</text>
</g>
</g>
</svg>
</body>
</html>
